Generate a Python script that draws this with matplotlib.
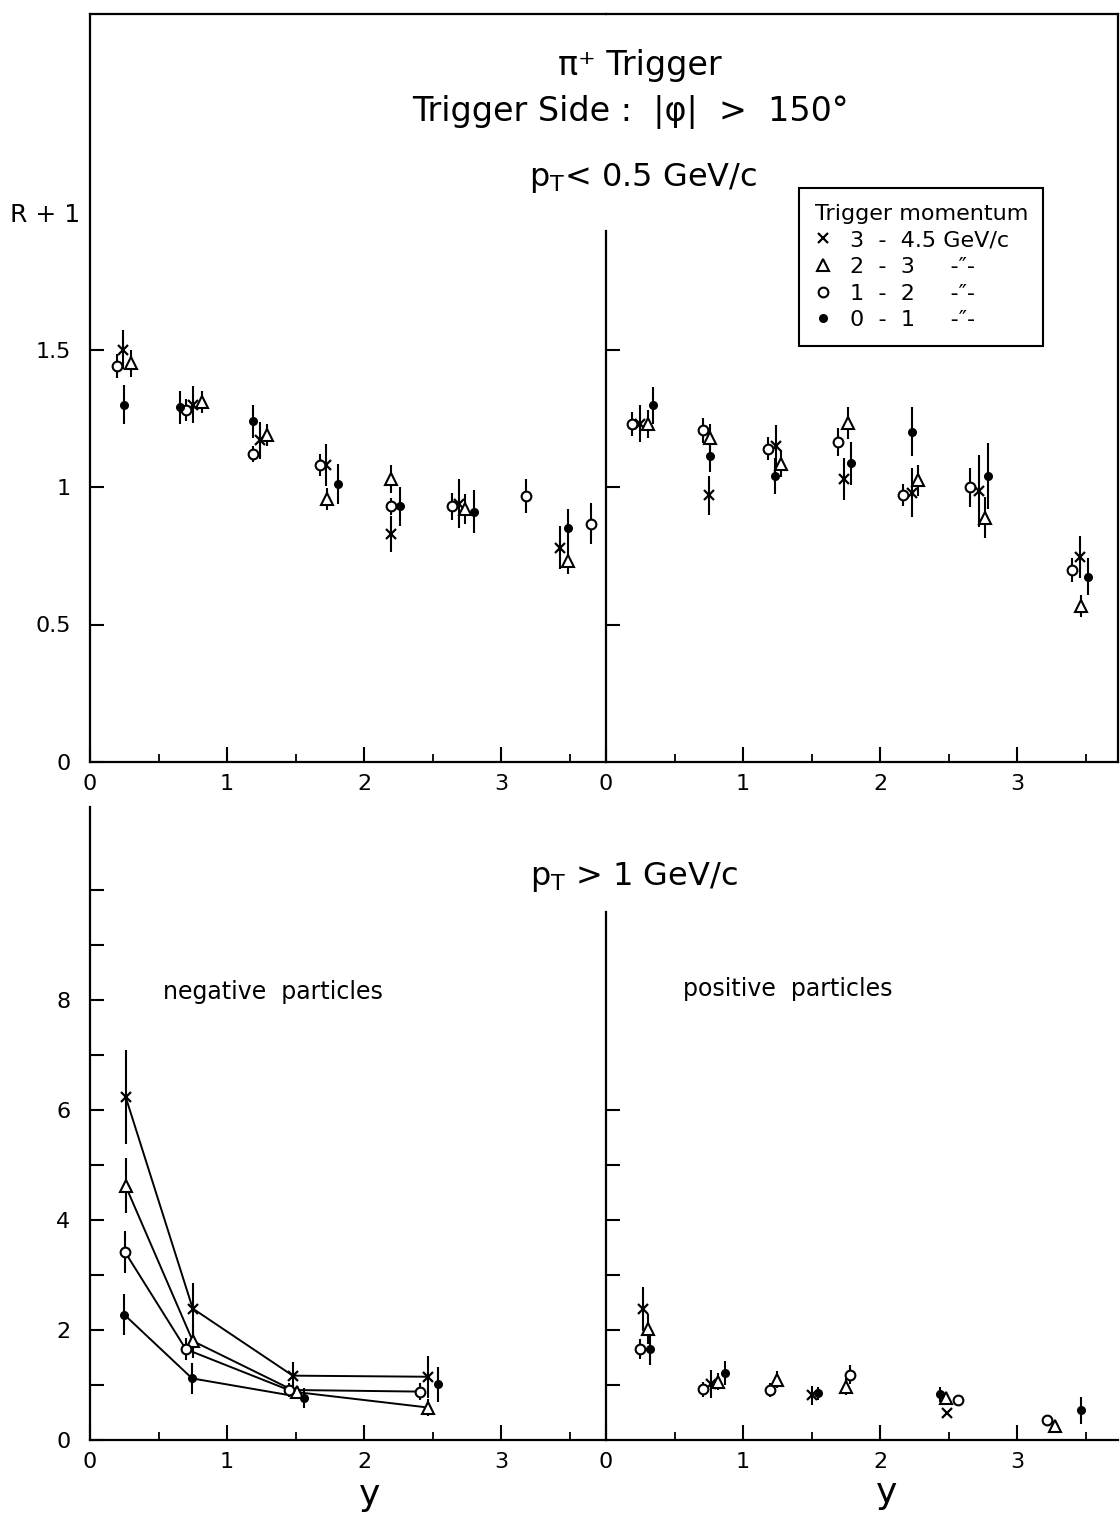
import numpy as np
import matplotlib.pyplot as plt
from matplotlib.lines import Line2D

W, H = 1120, 1515

# p_T < 0.5 GeV/c, left half (y of negative side)
tl_x_cross = [0.24, 0.75, 1.24, 1.72, 2.20, 2.69, 3.43]
tl_y_cross = [1.50, 1.30, 1.17, 1.08, 0.83, 0.94, 0.78]
tl_e_cross = [0.07, 0.067, 0.068, 0.077, 0.065, 0.09, 0.079]
tl_x_tri = [0.30, 0.82, 1.29, 1.73, 2.20, 2.74, 3.49]
tl_y_tri = [1.45, 1.31, 1.19, 0.955, 1.03, 0.92, 0.73]
tl_e_tri = [0.05, 0.04, 0.04, 0.04, 0.05, 0.053, 0.048]
tl_x_open = [0.195, 0.70, 1.19, 1.68, 2.20, 2.64, 3.18, 3.66]
tl_y_open = [1.44, 1.28, 1.12, 1.08, 0.93, 0.93, 0.967, 0.867]
tl_e_open = [0.045, 0.04, 0.03, 0.04, 0.03, 0.05, 0.062, 0.076]
tl_x_full = [0.25, 0.655, 1.19, 1.81, 2.26, 2.80, 3.49]
tl_y_full = [1.30, 1.29, 1.24, 1.01, 0.93, 0.91, 0.85]
tl_e_full = [0.07, 0.06, 0.06, 0.072, 0.07, 0.079, 0.07]

# p_T < 0.5 GeV/c, right half
tr_x_cross = [0.25, 0.75, 1.24, 1.74, 2.23, 2.72, 3.46]
tr_y_cross = [1.23, 0.97, 1.15, 1.03, 0.98, 0.985, 0.745]
tr_e_cross = [0.068, 0.07, 0.077, 0.077, 0.09, 0.13, 0.076]
tr_x_tri = [0.31, 0.76, 1.28, 1.77, 2.28, 2.77, 3.47]
tr_y_tri = [1.23, 1.18, 1.085, 1.234, 1.024, 0.889, 0.567]
tr_e_tri = [0.05, 0.05, 0.05, 0.058, 0.055, 0.074, 0.04]
tr_x_open = [0.19, 0.71, 1.18, 1.69, 2.17, 2.66, 3.40]
tr_y_open = [1.23, 1.206, 1.14, 1.163, 0.97, 0.999, 0.698]
tr_e_open = [0.044, 0.045, 0.042, 0.05, 0.04, 0.07, 0.045]
tr_x_full = [0.34, 0.76, 1.23, 1.79, 2.23, 2.79, 3.52]
tr_y_full = [1.297, 1.114, 1.041, 1.086, 1.201, 1.041, 0.674]
tr_e_full = [0.067, 0.06, 0.066, 0.077, 0.09, 0.12, 0.068]

# p_T > 1 GeV/c, negative particles (points joined by lines)
bl_x_cross = [0.26, 0.75, 1.48, 2.47]
bl_y_cross = [6.24, 2.39, 1.17, 1.15]
bl_e_cross = [0.85, 0.47, 0.25, 0.38]
bl_x_tri = [0.26, 0.75, 1.51, 2.47]
bl_y_tri = [4.62, 1.80, 0.87, 0.59]
bl_e_tri = [0.5, 0.3, 0.12, 0.15]
bl_x_open = [0.255, 0.70, 1.45, 2.41]
bl_y_open = [3.42, 1.65, 0.91, 0.88]
bl_e_open = [0.38, 0.2, 0.12, 0.15]
bl_x_full = [0.25, 0.745, 1.56, 2.54]
bl_y_full = [2.28, 1.12, 0.77, 1.01]
bl_e_full = [0.37, 0.28, 0.18, 0.32]
bl_full_joined = 3  # the 0-1 GeV/c line stops at y=1.5

# p_T > 1 GeV/c, positive particles
br_x_cross = [0.27, 0.765, 1.50, 2.49]
br_y_cross = [2.38, 1.02, 0.81, 0.50]
br_e_cross = [0.4, 0.25, 0.18, 0.0]
br_x_tri = [0.31, 0.82, 1.25, 1.75, 2.485, 3.28]
br_y_tri = [2.02, 1.06, 1.10, 0.97, 0.76, 0.26]
br_e_tri = [0.28, 0.15, 0.15, 0.15, 0.08, 0.0]
br_x_open = [0.25, 0.71, 1.195, 1.78, 2.57, 3.22]
br_y_open = [1.65, 0.92, 0.91, 1.19, 0.73, 0.36]
br_e_open = [0.18, 0.13, 0.12, 0.17, 0.08, 0.0]
br_x_full = [0.32, 0.87, 1.55, 2.44, 3.47]
br_y_full = [1.66, 1.22, 0.85, 0.83, 0.54]
br_e_full = [0.3, 0.22, 0.12, 0.13, 0.25]

legend_labels = ['3  -  4.5 GeV/c', '2  -  3     -\u2033-', '1  -  2     -\u2033-', '0  -  1     -\u2033-']

STYLES = {
    'cross': dict(marker='x', ms=7, mew=1.6, mfc='black', mec='black'),
    'tri': dict(marker='^', ms=8, mew=1.5, mfc='white', mec='black'),
    'open': dict(marker='o', ms=7, mew=1.5, mfc='white', mec='black'),
    'full': dict(marker='o', ms=5.5, mew=1.0, mfc='black', mec='black'),
}

FONT = 'DejaVu Sans'


def points(ax, x, y, e, kind):
    ax.errorbar(x, y, yerr=e, fmt='none', ecolor='black', elinewidth=1.5, capsize=0, zorder=2)
    ax.plot(x, y, ls='none', zorder=3, **STYLES[kind])


def setup_x(ax, xmax):
    ax.set_xlim(0, xmax)
    ax.set_xticks([0, 1, 2, 3])
    ax.set_xticks([0.5, 1.5, 2.5, 3.5], minor=True)
    ax.tick_params(axis='x', which='major', direction='in', length=11, width=1.5,
                   labelsize=16, pad=9, top=False)
    ax.tick_params(axis='x', which='minor', direction='in', length=6, width=1.3, top=False)
    for s in ax.spines.values():
        s.set_linewidth(1.6)


def main():
    plt.rcParams['font.family'] = [FONT]
    plt.rcParams['mathtext.fontset'] = 'dejavusans'

    fig = plt.figure(figsize=(W / 100, H / 100), dpi=100)
    ax_tl = fig.add_axes([90 / W, 1 - 762 / H, 516 / W, 748 / H])
    ax_tr = fig.add_axes([606 / W, 1 - 762 / H, 512 / W, 748 / H])
    ax_bl = fig.add_axes([90 / W, 1 - 1440 / H, 516 / W, 633 / H])
    ax_br = fig.add_axes([606 / W, 1 - 1440 / H, 512 / W, 633 / H])

    ytop = 748 / 275
    ybot = 633 / 55

    # top row
    for ax in (ax_tl, ax_tr):
        ax.set_ylim(0, ytop)
        ax.set_facecolor('none')
    setup_x(ax_tl, 516 / 137)
    setup_x(ax_tr, 512 / 137)
    ax_tl.spines['right'].set_visible(False)
    ax_tl.set_yticks([0, 0.5, 1, 1.5], ['0', '0.5', '1', '1.5'])
    ax_tl.tick_params(axis='y', direction='in', length=10, width=1.5, labelsize=16, pad=14)
    ax_tr.spines['left'].set_bounds(0, 1.93)
    ax_tr.set_yticks([0.5, 1, 1.5])
    ax_tr.tick_params(axis='y', direction='in', length=10, width=1.5, labelleft=False, right=False)

    points(ax_tl, tl_x_cross, tl_y_cross, tl_e_cross, 'cross')
    points(ax_tl, tl_x_tri, tl_y_tri, tl_e_tri, 'tri')
    points(ax_tl, tl_x_open, tl_y_open, tl_e_open, 'open')
    points(ax_tl, tl_x_full, tl_y_full, tl_e_full, 'full')
    points(ax_tr, tr_x_cross, tr_y_cross, tr_e_cross, 'cross')
    points(ax_tr, tr_x_tri, tr_y_tri, tr_e_tri, 'tri')
    points(ax_tr, tr_x_open, tr_y_open, tr_e_open, 'open')
    points(ax_tr, tr_x_full, tr_y_full, tr_e_full, 'full')

    # bottom row
    for ax in (ax_bl, ax_br):
        ax.set_ylim(0, ybot)
        ax.set_facecolor('none')
        ax.spines['top'].set_visible(False)
        ax.spines['right'].set_visible(False)
    setup_x(ax_bl, 516 / 137)
    setup_x(ax_br, 512 / 137)
    ax_bl.set_yticks(range(0, 11), ['0', '', '2', '', '4', '', '6', '', '8', '', ''])
    ax_bl.tick_params(axis='y', direction='in', length=10, width=1.5, labelsize=16, pad=14)
    ax_br.spines['left'].set_bounds(0, 9.6)
    ax_br.set_yticks(range(1, 7))
    ax_br.tick_params(axis='y', direction='in', length=10, width=1.5, labelleft=False)

    ax_bl.plot(bl_x_cross, bl_y_cross, color='black', lw=1.4, zorder=1)
    ax_bl.plot(bl_x_tri, bl_y_tri, color='black', lw=1.4, zorder=1)
    ax_bl.plot(bl_x_open, bl_y_open, color='black', lw=1.4, zorder=1)
    ax_bl.plot(bl_x_full[:bl_full_joined], bl_y_full[:bl_full_joined], color='black', lw=1.4, zorder=1)
    points(ax_bl, bl_x_cross, bl_y_cross, bl_e_cross, 'cross')
    points(ax_bl, bl_x_tri, bl_y_tri, bl_e_tri, 'tri')
    points(ax_bl, bl_x_open, bl_y_open, bl_e_open, 'open')
    points(ax_bl, bl_x_full, bl_y_full, bl_e_full, 'full')
    points(ax_br, br_x_cross, br_y_cross, br_e_cross, 'cross')
    points(ax_br, br_x_tri, br_y_tri, br_e_tri, 'tri')
    points(ax_br, br_x_open, br_y_open, br_e_open, 'open')
    points(ax_br, br_x_full, br_y_full, br_e_full, 'full')

    ax_bl.text(0.53, 8.15, 'negative  particles', fontsize=17, va='center', ha='left')
    ax_br.text(0.56, 8.2, 'positive  particles', fontsize=17, va='center', ha='left')

    # headings
    fig.text(640 / W, 1 - 65 / H, '\u03c0\u207a Trigger', fontsize=24, ha='center', va='center')
    fig.text(630 / W, 1 - 112 / H, 'Trigger Side :  |\u03c6|  >  150\u00b0', fontsize=24,
             ha='center', va='center')
    fig.text(643 / W, 1 - 178 / H, r'$\mathregular{p_T}$< 0.5 GeV/c', fontsize=23,
             ha='center', va='center')
    fig.text(634 / W, 1 - 877 / H, r'$\mathregular{p_T}$ > 1 GeV/c', fontsize=23,
             ha='center', va='center')
    fig.text(10 / W, 1 - 215 / H, 'R + 1', fontsize=18, ha='left', va='center')
    fig.text(370 / W, 1 - 1495 / H, 'y', fontsize=26, ha='center', va='center')
    fig.text(887 / W, 1 - 1493 / H, 'y', fontsize=26, ha='center', va='center')

    handles = [Line2D([], [], ls='none', **STYLES[k]) for k in ('cross', 'tri', 'open', 'full')]
    leg = ax_tr.legend(handles, legend_labels, title='Trigger momentum', loc='upper left',
                       bbox_to_anchor=(799 / W, 1 - 188 / H), bbox_transform=fig.transFigure,
                       borderaxespad=0, fontsize=16, title_fontsize=16, alignment='left',
                       fancybox=False, edgecolor='black', framealpha=1, handlelength=0.8,
                       handletextpad=0.8, labelspacing=0.3, borderpad=0.7)
    leg.get_frame().set_linewidth(1.5)

    fig.savefig('out.png', dpi=100)


if __name__ == '__main__':
    main()
